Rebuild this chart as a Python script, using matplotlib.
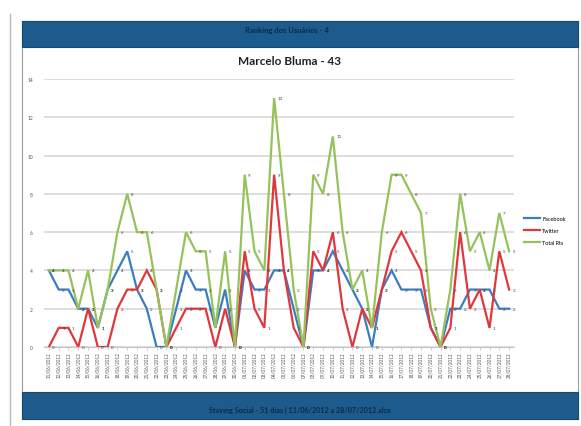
import matplotlib.pyplot as plt
from matplotlib.patches import Rectangle
from matplotlib.lines import Line2D

plt.rcParams['font.family'] = ['Lato', 'DejaVu Sans']

# uma data por coleta (48 dias)
datas = ['11/06/2012', '12/06/2012', '13/06/2012', '14/06/2012', '15/06/2012', '16/06/2012',
         '17/06/2012', '18/06/2012', '19/06/2012', '20/06/2012', '21/06/2012', '22/06/2012',
         '23/06/2012', '24/06/2012', '25/06/2012', '26/06/2012', '27/06/2012', '28/06/2012',
         '29/06/2012', '30/06/2012', '01/07/2012', '02/07/2012', '03/07/2012', '04/07/2012',
         '05/07/2012', '06/07/2012', '07/07/2012', '08/07/2012', '09/07/2012', '10/07/2012',
         '11/07/2012', '12/07/2012', '13/07/2012', '14/07/2012', '15/07/2012', '16/07/2012',
         '17/07/2012', '18/07/2012', '19/07/2012', '20/07/2012', '21/07/2012', '22/07/2012',
         '23/07/2012', '24/07/2012', '25/07/2012', '26/07/2012', '27/07/2012', '28/07/2012']

facebook = [4, 3, 3, 2, 2, 1, 3, 4, 5, 3, 2, 0, 0, 2, 4, 3, 3, 1, 3, 0, 4, 3, 3, 4,
            4, 2, 0, 4, 4, 5, 4, 3, 2, 0, 3, 4, 3, 3, 3, 1, 0, 2, 2, 3, 3, 3, 2, 2]
twitter = [0, 1, 1, 0, 2, 0, 0, 2, 3, 3, 4, 3, 0, 1, 2, 2, 2, 0, 2, 0, 5, 2, 1, 9,
           4, 1, 0, 5, 4, 6, 2, 0, 2, 1, 3, 5, 6, 5, 4, 1, 0, 1, 6, 2, 3, 1, 5, 3]
total = [4, 4, 4, 2, 4, 1, 3, 6, 8, 6, 6, 3, 0, 3, 6, 5, 5, 1, 5, 0, 9, 5, 4, 13,
         8, 3, 0, 9, 8, 11, 6, 3, 4, 1, 6, 9, 9, 8, 7, 2, 0, 3, 8, 5, 6, 4, 7, 5]

series = [('Facebook', facebook, '#3b7dc0'),
          ('Twitter', twitter, '#e0373d'),
          ('Total Rts', total, '#95c25a')]

W, H = 581, 427
fig = plt.figure(figsize=(W / 100, H / 100), dpi=100)


def fx(px):
    return px / W


def fy(py):
    return 1 - py / H


# moldura da janela e faixas azuis
fig.add_artist(Line2D([fx(10), fx(10)], [fy(15), 0], color='#b8b8b8', lw=1, zorder=-6))
fig.add_artist(Rectangle((fx(22), fy(420)), fx(556), (420 - 22) / H, facecolor='white',
                         edgecolor='#9a9a9a', lw=0.8, zorder=-5))
fig.add_artist(Rectangle((fx(22), fy(48)), fx(556), 26 / H, facecolor='#1d5b8c',
                         edgecolor='#16496f', lw=0.8, zorder=-4))
fig.add_artist(Rectangle((fx(22), fy(420)), fx(556), 27 / H, facecolor='#1d5b8c',
                         edgecolor='#16496f', lw=0.8, zorder=-4))
fig.text(fx(287), fy(31), 'Ranking dos Usuários - 4', ha='center', va='center',
         fontsize=5.5, color='#0c2a44', fontweight='bold')
fig.text(fx(300), fy(411), 'Staying Social - 51 dias | 11/06/2012 a 28/07/2012.xlsx',
         ha='center', va='center', fontsize=5.2, color='#0c2a44', fontweight='bold')
fig.text(fx(290), fy(62), 'Marcelo Bluma - 43', ha='center', va='center',
         fontsize=8.5, fontweight='bold', color='#222222')

ax = fig.add_axes([fx(44), fy(348), fx(470), (348 - 80) / H])
ax.patch.set_alpha(0)
x = list(range(len(datas)))
for nome, valores, cor in series:
    ax.plot(x, valores, color=cor, lw=1.6, label=nome, solid_joinstyle='miter')
    for xi, v in zip(x, valores):
        ax.annotate(str(v), (xi, v), xytext=(2.5, 0), textcoords='offset points',
                    fontsize=3.2, va='center', ha='left', color='#404040')

ax.set_xlim(-0.5, len(datas) - 0.5)
ax.set_ylim(0, 14)
ax.set_yticks(range(0, 15, 2))
ax.set_xticks(x)
ax.set_xticklabels(datas, rotation=90, fontsize=3.3, color='#555555')
ax.tick_params(axis='y', labelsize=3.5, labelcolor='#555555', length=0, pad=8)
ax.tick_params(axis='x', length=2, width=0.5, color='#bbbbbb', pad=1)
ax.grid(axis='y', color='#d4d4d4', lw=1.1)
ax.set_axisbelow(True)
for lado in ['top', 'right', 'left']:
    ax.spines[lado].set_visible(False)
ax.spines['bottom'].set_color('#c8c8c8')

ax.legend(loc='center left', bbox_to_anchor=(1.01, 0.435), frameon=False, fontsize=4,
          handlelength=3.0, handletextpad=0.3, labelspacing=1.3)

fig.savefig('out.png', dpi=100)
